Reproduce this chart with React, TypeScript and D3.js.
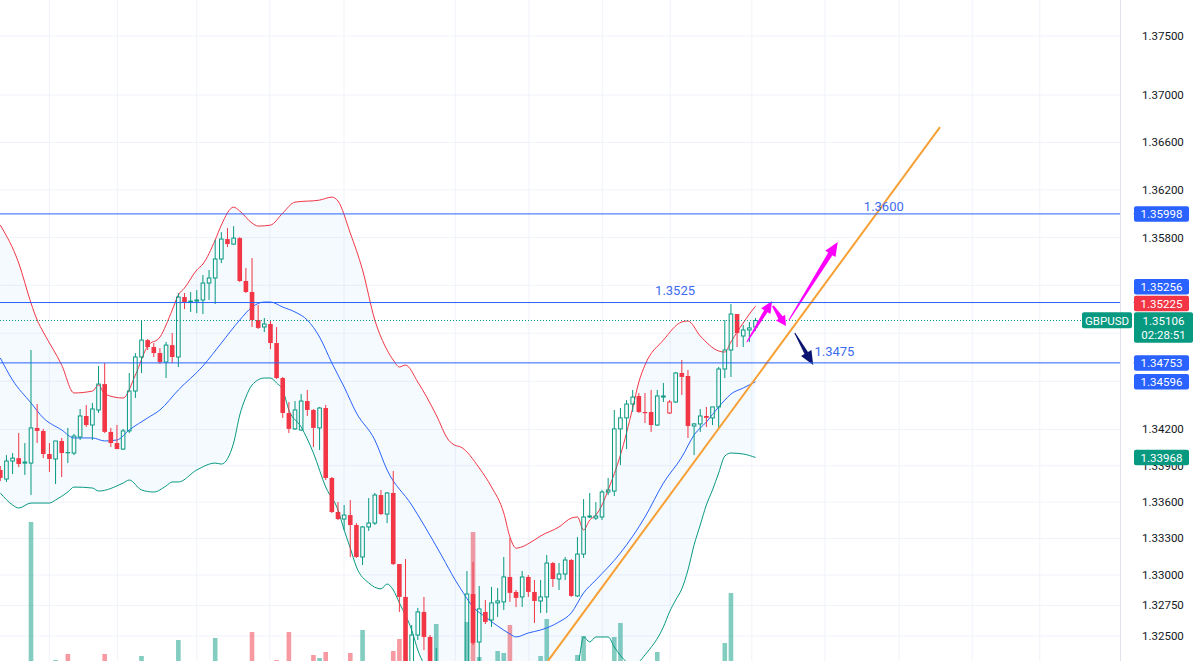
import React, { useEffect, useRef } from 'react';
import * as d3 from 'd3';

// GBPUSD candles (one entry per bar, left to right)
const opens = [
    1.33865, 1.33790, 1.33939, 1.33963, 1.33922, 1.33922, 1.34213, 1.34188, 1.33997, 1.33956,
    1.34105, 1.34013, 1.34005, 1.34138, 1.34312, 1.34237, 1.34362, 1.34577, 1.34180, 1.34088,
    1.34038, 1.34188, 1.34519, 1.34802, 1.34943, 1.34885, 1.34835, 1.34760, 1.34901, 1.34802,
    1.35302, 1.35260, 1.35268, 1.35277, 1.35419, 1.35461, 1.35620, 1.35787, 1.35745, 1.35795,
    1.35436, 1.35344, 1.35110, 1.35052, 1.35077, 1.34918, 1.34627, 1.34337, 1.34205, 1.34196,
    1.34436, 1.34362, 1.34213, 1.34378, 1.33799, 1.33518, 1.33460, 1.33493, 1.33411, 1.33148,
    1.33395, 1.33427, 1.33658, 1.33501, 1.33675, 1.33090, 1.32820, 1.32238, 1.32508, 1.32697,
    1.32492, 1.31977, 1.32205, 1.32058, 1.32173, 1.32042, 1.32254, 1.32844, 1.32451, 1.32697,
    1.32631, 1.32771, 1.32779, 1.32984, 1.32861, 1.32820, 1.32984, 1.32861, 1.32787, 1.32820,
    1.33098, 1.32967, 1.33008, 1.33123, 1.32828, 1.33172, 1.33477, 1.33468, 1.33477, 1.33683,
    1.33691, 1.34205, 1.34296, 1.34411, 1.34478, 1.34345, 1.34345, 1.34237, 1.34469, 1.34337,
    1.34428, 1.34669, 1.34644, 1.34229, 1.34246, 1.34312, 1.34296, 1.34387, 1.34702, 1.34860,
    1.35160, 1.34977, 1.35027, 1.35052,
];
const highs = [
    1.33898, 1.33988, 1.34005, 1.34171, 1.34088, 1.34860, 1.34411, 1.34205, 1.34088, 1.34105,
    1.34130, 1.34213, 1.34163, 1.34370, 1.34403, 1.34420, 1.34727, 1.34752, 1.34213, 1.34237,
    1.34205, 1.34669, 1.34835, 1.35110, 1.34952, 1.34918, 1.34877, 1.34927, 1.35002, 1.35335,
    1.35335, 1.35343, 1.35360, 1.35486, 1.35528, 1.35779, 1.35845, 1.35879, 1.35895, 1.35804,
    1.35545, 1.35628, 1.35235, 1.35127, 1.35110, 1.35052, 1.34636, 1.34428, 1.34436, 1.34494,
    1.34528, 1.34370, 1.34387, 1.34403, 1.33807, 1.33600, 1.33576, 1.33617, 1.33427, 1.33403,
    1.33633, 1.33675, 1.33700, 1.33683, 1.33857, 1.33090, 1.33131, 1.32590, 1.32730, 1.32820,
    1.32508, 1.32402, 1.32263, 1.32238, 1.32238, 1.32287, 1.33033, 1.33107, 1.32910, 1.32795,
    1.32902, 1.32893, 1.33148, 1.33303, 1.32877, 1.33033, 1.33000, 1.32959, 1.32959, 1.33164,
    1.33107, 1.33098, 1.33148, 1.33131, 1.33312, 1.33625, 1.33675, 1.33600, 1.33700, 1.33799,
    1.34362, 1.34378, 1.34444, 1.34528, 1.34503, 1.34503, 1.34528, 1.34528, 1.34586, 1.34444,
    1.34677, 1.34777, 1.34694, 1.34254, 1.34370, 1.34387, 1.34387, 1.34719, 1.35110, 1.35244,
    1.35160, 1.35068, 1.35094, 1.35127,
];
const lows = [
    1.33774, 1.33766, 1.33832, 1.33889, 1.33824, 1.33658, 1.34088, 1.33963, 1.33849, 1.33749,
    1.33807, 1.33922, 1.33988, 1.34113, 1.34221, 1.34113, 1.34337, 1.34171, 1.34055, 1.34038,
    1.34030, 1.34171, 1.34461, 1.34669, 1.34860, 1.34802, 1.34744, 1.34627, 1.34752, 1.34719,
    1.35202, 1.35177, 1.35168, 1.35160, 1.35277, 1.35244, 1.35586, 1.35720, 1.35737, 1.35427,
    1.35335, 1.35052, 1.35035, 1.35010, 1.34868, 1.34619, 1.34296, 1.34171, 1.34196, 1.34188,
    1.34312, 1.34055, 1.34030, 1.33782, 1.33510, 1.33452, 1.33370, 1.33148, 1.33140, 1.33082,
    1.33362, 1.33411, 1.33493, 1.33427, 1.33082, 1.32697, 1.32058, 1.32140, 1.32467, 1.32385,
    1.32058, 1.31895, 1.31977, 1.31936, 1.31960, 1.31993, 1.32205, 1.32426, 1.32287, 1.32598,
    1.32574, 1.32656, 1.32713, 1.32779, 1.32738, 1.32738, 1.32820, 1.32607, 1.32689, 1.32689,
    1.32902, 1.32877, 1.32959, 1.32820, 1.32820, 1.33140, 1.33468, 1.33452, 1.33452, 1.33658,
    1.33650, 1.33906, 1.34038, 1.34345, 1.34337, 1.34254, 1.34180, 1.34229, 1.34428, 1.34328,
    1.34420, 1.34486, 1.34130, 1.33988, 1.34180, 1.34221, 1.34237, 1.34213, 1.34627, 1.34636,
    1.34885, 1.34885, 1.34927, 1.35019,
];
const closes = [
    1.33799, 1.33939, 1.33963, 1.33914, 1.33931, 1.34213, 1.34188, 1.33997, 1.33956, 1.34105,
    1.34005, 1.34005, 1.34146, 1.34312, 1.34237, 1.34370, 1.34577, 1.34180, 1.34088, 1.34038,
    1.34188, 1.34519, 1.34802, 1.34943, 1.34885, 1.34835, 1.34760, 1.34901, 1.34802, 1.35302,
    1.35260, 1.35268, 1.35277, 1.35419, 1.35461, 1.35620, 1.35787, 1.35745, 1.35795, 1.35436,
    1.35344, 1.35110, 1.35044, 1.35077, 1.34918, 1.34627, 1.34337, 1.34205, 1.34362, 1.34436,
    1.34362, 1.34213, 1.34378, 1.33799, 1.33518, 1.33460, 1.33493, 1.33411, 1.33148, 1.33395,
    1.33427, 1.33658, 1.33501, 1.33675, 1.33090, 1.32820, 1.32181, 1.32508, 1.32697, 1.32492,
    1.32140, 1.32205, 1.32058, 1.32173, 1.32017, 1.32254, 1.32844, 1.32443, 1.32722, 1.32615,
    1.32771, 1.32787, 1.32984, 1.32853, 1.32812, 1.32984, 1.32861, 1.32787, 1.32820, 1.33098,
    1.32967, 1.33008, 1.33123, 1.32828, 1.33172, 1.33477, 1.33485, 1.33485, 1.33683, 1.33700,
    1.34205, 1.34296, 1.34411, 1.34469, 1.34345, 1.34337, 1.34237, 1.34478, 1.34478, 1.34428,
    1.34669, 1.34636, 1.34229, 1.34246, 1.34312, 1.34296, 1.34387, 1.34702, 1.34860, 1.35160,
    1.35002, 1.35027, 1.35044, 1.35106,
];
// volume in thousands
const volumes = [
    9, 11, 8, 12, 10, 153, 12, 9, 11, 15,
    10, 21, 8, 12, 9, 11, 13, 21, 10, 8,
    9, 12, 11, 19, 8, 10, 9, 11, 12, 35,
    10, 9, 8, 11, 12, 37, 10, 9, 8, 12,
    11, 43, 10, 9, 12, 15, 11, 43, 10, 12,
    9, 20, 17, 23, 12, 10, 11, 22, 12, 45,
    10, 9, 11, 12, 24, 36, 13, 12, 11, 10,
    12, 51, 11, 9, 12, 10, 53, 143, 18, 12,
    10, 24, 22, 50, 9, 11, 10, 12, 19, 56,
    11, 9, 12, 10, 20, 39, 11, 9, 12, 10,
    38, 52, 12, 11, 9, 10, 12, 23, 11, 9,
    12, 10, 13, 11, 9, 10, 12, 13, 32, 82,
    12, 10, 9, 7,
];

// Bollinger bands, sampled as [bar, price]
const bbUpper: [number, number][] = [
    [0, 1.35904], [3, 1.35586], [5, 1.35252], [6, 1.35110], [7, 1.35010], [10, 1.34735], [12, 1.34503],
    [15, 1.34519], [16, 1.34569], [17, 1.34494], [20, 1.34461], [22, 1.34652], [24, 1.34893], [26, 1.34968],
    [28, 1.35193], [29, 1.35319], [30, 1.35377], [32, 1.35528], [33, 1.35578], [35, 1.35779], [36, 1.35904],
    [38, 1.36055], [39, 1.36022], [41, 1.35921], [42, 1.35896], [44, 1.35904], [46, 1.36005], [48, 1.36097],
    [52, 1.36114], [54, 1.36139], [55, 1.36106], [57, 1.35837], [59, 1.35528], [61, 1.35110], [63, 1.34860],
    [64, 1.34777], [65, 1.34719], [66, 1.34735], [68, 1.34594], [71, 1.34320], [73, 1.34113], [74, 1.34071],
    [75, 1.34055], [78, 1.33882], [80, 1.33725], [82, 1.33510], [83, 1.33313], [84, 1.33221], [87, 1.33288],
    [88, 1.33321], [91, 1.33395], [93, 1.33468], [94, 1.33477], [95, 1.33370], [96, 1.33452], [97, 1.33493],
    [98, 1.33576], [99, 1.33700], [101, 1.33988], [103, 1.34378], [104, 1.34594], [105, 1.34735], [108, 1.34943],
    [111, 1.35094], [112, 1.35102], [114, 1.34977], [117, 1.34852], [118, 1.34843], [119, 1.34927], [120, 1.35010],
    [121, 1.35085], [122, 1.35160], [123, 1.35225],
];
const bbBasis: [number, number][] = [
    [0, 1.34794], [2, 1.34610], [5, 1.34420], [7, 1.34296], [10, 1.34196], [12, 1.34130], [15, 1.34130],
    [17, 1.34105], [19, 1.34113], [21, 1.34196], [24, 1.34296], [26, 1.34362], [29, 1.34528], [33, 1.34727],
    [36, 1.34918], [39, 1.35110], [41, 1.35218], [43, 1.35260], [44, 1.35260], [46, 1.35218], [48, 1.35177],
    [50, 1.35110], [52, 1.34968], [54, 1.34752], [56, 1.34553], [58, 1.34337], [61, 1.34113], [63, 1.33865],
    [67, 1.33576], [69, 1.33411], [72, 1.33148], [74, 1.32967], [75, 1.32886], [77, 1.32738], [79, 1.32656],
    [81, 1.32582], [83, 1.32517], [84, 1.32492], [86, 1.32525], [88, 1.32549], [91, 1.32615], [93, 1.32689],
    [95, 1.32853], [97, 1.32959], [101, 1.33181], [105, 1.33477], [108, 1.33757], [111, 1.33972], [113, 1.34155],
    [115, 1.34262], [117, 1.34387], [118, 1.34444], [119, 1.34494], [121, 1.34544], [123, 1.34596],
];
const bbLower: [number, number][] = [
    [0, 1.33675], [2, 1.33576], [3, 1.33551], [5, 1.33592], [8, 1.33592], [9, 1.33617], [11, 1.33683],
    [12, 1.33724], [15, 1.33716], [16, 1.33691], [20, 1.33757], [21, 1.33782], [23, 1.33700], [25, 1.33683],
    [27, 1.33733], [28, 1.33766], [29, 1.33766], [32, 1.33865], [35, 1.33922], [36, 1.33914], [38, 1.34088],
    [39, 1.34320], [40, 1.34469], [41, 1.34569], [43, 1.34627], [44, 1.34627], [45, 1.34586], [46, 1.34528],
    [47, 1.34362], [49, 1.34221], [51, 1.34005], [53, 1.33724], [55, 1.33535], [56, 1.33370], [57, 1.33221],
    [58, 1.33066], [60, 1.32935], [62, 1.32886], [63, 1.32926], [64, 1.32877], [65, 1.32771], [67, 1.32549],
    [68, 1.32385], [70, 1.32181], [72, 1.31977], [75, 1.31814], [78, 1.31732], [81, 1.31773], [84, 1.31895],
    [87, 1.32017], [90, 1.32099], [93, 1.32181], [94, 1.32238], [95, 1.32492], [96, 1.32451], [97, 1.32492],
    [99, 1.32492], [100, 1.32410], [102, 1.32287], [103, 1.32254], [104, 1.32287], [105, 1.32345], [108, 1.32574],
    [109, 1.32697], [110, 1.32795], [111, 1.32886], [112, 1.33041], [113, 1.33247], [114, 1.33411], [115, 1.33576],
    [116, 1.33700], [117, 1.33840], [118, 1.33980], [119, 1.34005], [121, 1.33997], [123, 1.33968],
];

const priceTicks = [1.375, 1.37, 1.366, 1.362, 1.358, 1.354, 1.35, 1.346, 1.342, 1.339, 1.336, 1.333, 1.33, 1.3275, 1.325];
// time grid lines, in bar units
const timeGrid = [7.98, 19.06, 32.0, 43.9, 55.98, 74.1, 86.1, 98.05, 109.1, 122.4, 134.3, 146.4, 158.3, 169.3];

const lastPrice = 1.35106;
const countdown = '02:28:51';
const symbol = 'GBPUSD';
const levels = [1.35998, 1.35256, 1.34753];
const scaleLabels = [1.35998, 1.35256, 1.35225, 1.34753, 1.34596, 1.33968];
const scaleLabelKinds = ['line', 'line', 'upper', 'line', 'basis', 'lower'];

// drawings: [bar, price]
const trendLine: [number, number][] = [[89.2, 1.32296], [153.05, 1.36728]];
const magentaArrows: [number, number][][] = [
    [[121.6, 1.34927], [125.7, 1.35269]],
    [[125.85, 1.35227], [127.96, 1.3506]],
    [[128.45, 1.3511], [136.4, 1.35762]],
];
const navyArrow: [number, number][] = [[129.4, 1.35002], [132.4, 1.34735]];
const noteTexts = ['1.3600', '1.3525', '1.3475'];
const notePoints: [number, number][] = [[143.9, 1.36022], [109.9, 1.35319], [132.6, 1.3481]];
const noteAnchors = ['middle', 'middle', 'start'];

const GREEN = '#089981';
const RED = '#f23645';
const BLUE = '#2962ff';

const arrowPolygon = (x1: number, y1: number, x2: number, y2: number, tail: number, shaft: number, headW: number, headL: number) => {
    const dx = x2 - x1, dy = y2 - y1;
    const len = Math.hypot(dx, dy);
    const ux = dx / len, uy = dy / len;
    const nx = -uy, ny = ux;
    const bx = x2 - ux * headL, by = y2 - uy * headL;
    return [
        [x1 + nx * tail / 2, y1 + ny * tail / 2],
        [bx + nx * shaft / 2, by + ny * shaft / 2],
        [bx + nx * headW / 2, by + ny * headW / 2],
        [x2, y2],
        [bx - nx * headW / 2, by - ny * headW / 2],
        [bx - nx * shaft / 2, by - ny * shaft / 2],
        [x1 - nx * tail / 2, y1 - ny * tail / 2],
    ].map(p => p.join(',')).join(' ');
};

const App: React.FC = () => {
    const svgRef = useRef<SVGSVGElement | null>(null);

    useEffect(() => {
        document.body.style.margin = '0';
        const svg = d3.select(svgRef.current);
        svg.selectAll('*').remove();

        const width = 1200;
        const height = 661;
        const axisX = 1120;
        const font = 'Roboto, "Liberation Sans", sans-serif';

        const x = d3.scaleLinear().domain([0, opens.length - 1]).range([0.3, 755.5]);
        const y = d3.scaleLog().domain([1.325, 1.375]).range([636, 36]);
        const yVol = d3.scaleLinear().domain([0, 160]).range([675, 515]);

        svg.append('rect').attr('width', width).attr('height', height).attr('fill', '#ffffff');

        svg.append('defs').append('clipPath').attr('id', 'plot-clip')
            .append('rect').attr('width', axisX).attr('height', height);
        const plot = svg.append('g').attr('clip-path', 'url(#plot-clip)');

        // grid
        plot.append('g').selectAll('line').data(priceTicks).join('line')
            .attr('x1', 0).attr('x2', axisX)
            .attr('y1', d => y(d)).attr('y2', d => y(d))
            .attr('stroke', '#f0f3fa').attr('stroke-width', 1);
        plot.append('g').selectAll('line').data(timeGrid).join('line')
            .attr('x1', d => x(d)).attr('x2', d => x(d))
            .attr('y1', 0).attr('y2', height)
            .attr('stroke', '#f0f3fa').attr('stroke-width', 1);

        const bars = d3.range(opens.length);

        // volume
        plot.append('g').selectAll('rect').data(bars).join('rect')
            .attr('x', i => x(i) - 2.3)
            .attr('width', 4.6)
            .attr('y', i => yVol(volumes[i]))
            .attr('height', i => yVol(0) - yVol(volumes[i]))
            .attr('fill', i => closes[i] >= opens[i] ? 'rgba(8,153,129,0.5)' : 'rgba(242,54,69,0.5)');

        // bollinger bands
        const bandPoly = [...bbUpper, ...bbLower.slice().reverse()];
        plot.append('path')
            .attr('d', (d3.line<[number, number]>().x(d => x(d[0])).y(d => y(d[1]))(bandPoly) as string) + 'Z')
            .attr('fill', 'rgba(33,150,243,0.05)');
        const bandLine = d3.line<[number, number]>()
            .x(d => x(d[0]))
            .y(d => y(d[1]))
            .curve(d3.curveMonotoneX);
        [[bbUpper, RED], [bbBasis, BLUE], [bbLower, GREEN]].forEach(([pts, color]) => {
            plot.append('path')
                .attr('d', bandLine(pts as [number, number][]) as string)
                .attr('fill', 'none')
                .attr('stroke', color as string)
                .attr('stroke-width', 1);
        });

        // candles (hollow when close > open, coloured against previous close)
        const candles = plot.append('g');
        bars.forEach(i => {
            const o = opens[i], c = closes[i];
            const up = i === 0 ? c >= o : c >= closes[i - 1];
            const color = up ? GREEN : RED;
            const hollow = c > o;
            const cx = x(i);
            const top = y(Math.max(o, c));
            const bot = y(Math.min(o, c));
            candles.append('line')
                .attr('x1', cx).attr('x2', cx)
                .attr('y1', y(highs[i])).attr('y2', top)
                .attr('stroke', color).attr('stroke-width', 1);
            candles.append('line')
                .attr('x1', cx).attr('x2', cx)
                .attr('y1', bot).attr('y2', y(lows[i]))
                .attr('stroke', color).attr('stroke-width', 1);
            if (hollow) {
                candles.append('rect')
                    .attr('x', cx - 1.8).attr('width', 3.6)
                    .attr('y', top).attr('height', Math.max(bot - top, 1))
                    .attr('fill', 'none').attr('stroke', color).attr('stroke-width', 1);
            } else {
                candles.append('rect')
                    .attr('x', cx - 2.3).attr('width', 4.6)
                    .attr('y', top).attr('height', Math.max(bot - top, 1.2))
                    .attr('fill', color);
            }
        });

        // last price line
        plot.append('line')
            .attr('x1', 0).attr('x2', 1082)
            .attr('y1', y(lastPrice)).attr('y2', y(lastPrice))
            .attr('stroke', GREEN).attr('stroke-width', 1).attr('stroke-dasharray', '1,2');

        // trend line
        plot.append('line')
            .attr('x1', x(trendLine[0][0])).attr('y1', y(trendLine[0][1]))
            .attr('x2', x(trendLine[1][0])).attr('y2', y(trendLine[1][1]))
            .attr('stroke', '#f7a035').attr('stroke-width', 2);

        // arrows
        magentaArrows.forEach(([a, b], k) => {
            const sizes = [[1, 4, 11, 12], [2, 5, 11, 10], [1, 5, 12, 14]][k];
            plot.append('polygon')
                .attr('points', arrowPolygon(x(a[0]), y(a[1]), x(b[0]), y(b[1]), sizes[0], sizes[1], sizes[2], sizes[3]))
                .attr('fill', '#ff00ff');
        });
        plot.append('polygon')
            .attr('points', arrowPolygon(x(navyArrow[0][0]), y(navyArrow[0][1]), x(navyArrow[1][0]), y(navyArrow[1][1]), 1, 4, 12, 14))
            .attr('fill', '#0b1470');

        // note texts
        noteTexts.forEach((t, k) => {
            plot.append('text')
                .attr('x', x(notePoints[k][0]))
                .attr('y', y(notePoints[k][1]))
                .attr('text-anchor', noteAnchors[k])
                .attr('font-family', font)
                .attr('font-size', 13)
                .attr('fill', '#3d6cf0')
                .text(t);
        });

        // horizontal levels (run into the price scale up to the labels)
        svg.append('g').selectAll('line').data(levels).join('line')
            .attr('x1', 0).attr('x2', 1134)
            .attr('y1', d => y(d)).attr('y2', d => y(d))
            .attr('stroke', BLUE).attr('stroke-width', 1);

        // price scale
        const scale = svg.append('g');
        scale.append('rect').attr('x', axisX + 0.5).attr('y', 0).attr('width', 13).attr('height', height).attr('fill', '#ffffff');
        scale.append('rect').attr('x', 1134).attr('y', 0).attr('width', width - 1134).attr('height', height).attr('fill', '#ffffff');
        scale.append('line')
            .attr('x1', axisX + 0.5).attr('x2', axisX + 0.5)
            .attr('y1', 0).attr('y2', height)
            .attr('stroke', '#e0e3eb');
        scale.selectAll('text.tick').data(priceTicks).join('text')
            .attr('class', 'tick')
            .attr('x', 1142)
            .attr('y', d => y(d) + 4)
            .attr('font-family', font)
            .attr('font-size', 11.5)
            .attr('fill', '#131722')
            .text(d => d.toFixed(5));

        // price labels, pushed apart from the last price box
        const boxH = 15.5;
        const cy = y(lastPrice);
        const curTop = cy - 8.2;
        const curBottom = cy + 22.3;
        const placed: { value: number; center: number; color: string }[] = [];
        const kindColor: Record<string, string> = { line: BLUE, upper: RED, basis: BLUE, lower: GREEN };
        const labels = scaleLabels.map((v, k) => ({ value: v, color: kindColor[scaleLabelKinds[k]] }));
        const above = labels.filter(l => y(l.value) < cy).sort((a, b) => y(b.value) - y(a.value));
        const below = labels.filter(l => y(l.value) >= cy).sort((a, b) => y(a.value) - y(b.value));
        let limit = curTop - 1;
        above.forEach(l => {
            const center = Math.min(y(l.value), limit - boxH / 2);
            placed.push({ ...l, center });
            limit = center - boxH / 2 - 1.2;
        });
        limit = curBottom + 1;
        below.forEach(l => {
            const center = Math.max(y(l.value), limit + boxH / 2);
            placed.push({ ...l, center });
            limit = center + boxH / 2 + 1.2;
        });
        placed.forEach(p => {
            scale.append('rect')
                .attr('x', 1134).attr('y', p.center - boxH / 2)
                .attr('width', 55).attr('height', boxH)
                .attr('rx', 2).attr('fill', p.color);
            scale.append('text')
                .attr('x', 1161.5).attr('y', p.center + 4.2)
                .attr('text-anchor', 'middle')
                .attr('font-family', font).attr('font-size', 11.5)
                .attr('fill', '#ffffff')
                .text(p.value.toFixed(5));
        });

        // last price box with countdown and symbol tag
        scale.append('rect')
            .attr('x', 1134).attr('y', curTop)
            .attr('width', 59).attr('height', curBottom - curTop)
            .attr('rx', 2).attr('fill', GREEN);
        scale.append('text')
            .attr('x', 1163.5).attr('y', cy + 4.2)
            .attr('text-anchor', 'middle')
            .attr('font-family', font).attr('font-size', 11.5)
            .attr('fill', '#ffffff')
            .text(lastPrice.toFixed(5));
        scale.append('text')
            .attr('x', 1163.5).attr('y', cy + 18)
            .attr('text-anchor', 'middle')
            .attr('font-family', font).attr('font-size', 11.5)
            .attr('fill', '#ffffff')
            .text(countdown);
        svg.append('rect')
            .attr('x', 1082).attr('y', curTop)
            .attr('width', 50).attr('height', 16)
            .attr('rx', 2).attr('fill', GREEN);
        svg.append('text')
            .attr('x', 1107).attr('y', cy + 4.2)
            .attr('text-anchor', 'middle')
            .attr('font-family', font).attr('font-size', 11.5)
            .attr('fill', '#ffffff')
            .text(symbol);
    }, []);

    return (
        <svg
            ref={svgRef}
            width={1200}
            height={661}
            style={{ position: 'absolute', left: 0, top: 0, display: 'block' }}
        ></svg>
    );
};

export default App;
